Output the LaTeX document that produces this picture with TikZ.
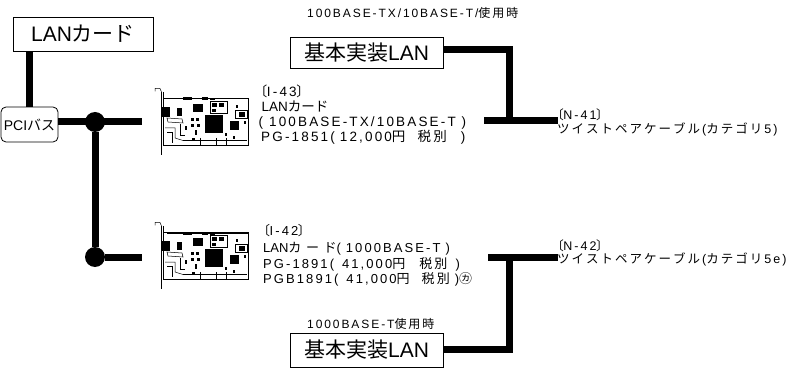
\documentclass[tikz,border=0pt]{standalone}
\usepackage{fontspec}
\setmainfont{Liberation Sans}
\newfontfamily\smfont{Liberation Sans}[LetterSpace=16]
\newfontfamily\plainfont{Liberation Sans}
\newfontfamily\smjfont{Noto Sans CJK JP}
\newfontfamily\brkfont{Noto Sans CJK JP}[RawFeature=+palt]
\newfontfamily\bgjfont{Noto Sans CJK JP}
\newskip\cjkgap
\def\cjkloop#1{\ifx\relax#1\else#1\hskip\cjkgap\expandafter\cjkloop\fi}
\newcommand\JS[1]{{\smjfont\cjkgap=0.16em\relax\cjkloop#1\relax}}
\newcommand\JW[1]{{\smjfont\cjkgap=0.35em\relax\cjkloop#1\relax}}
\newcommand\JB[1]{{\bgjfont #1}}
\newcommand\LBk{{\brkfont 〔}}
\newcommand\RBk{{\brkfont 〕}}
\tikzset{
  wire/.style={line width=7pt},
  bigbox/.style={draw, line width=0.8pt, inner sep=0pt, minimum width=153pt,
    font=\fontsize{21}{21}\selectfont},
  pcibox/.style={draw, line width=0.8pt, rounded corners=5pt, inner sep=0pt,
    minimum width=57pt, minimum height=35pt, font=\fontsize{14}{14}\selectfont},
  junction/.style={circle, fill=black, inner sep=0pt, minimum size=20pt},
  small/.style={anchor=base west, inner sep=0pt, font=\smfont\fontsize{12.5}{14}\selectfont},
  cardtxt/.style={small, font=\smfont\fontsize{13.5}{15}\selectfont},
  cardtxtb/.style={small, font=\smfont\fontsize{13}{15}\selectfont},
  uselbl/.style={small, font=\smfont\fontsize{12}{14}\selectfont},
  chip/.style={fill=black},
  cl/.style={line width=0.5pt},
  pcicard/.pic={
    % bracket
    \draw[cl] (0,3.5) -- (0,0.5) -- (5,0.5) -- (6.5,4);
    \draw[cl] (6.5,4) -- (6.5,67);
    \draw[cl] (8,4) -- (8,57);
    % board
    \draw[cl] (8,10) rectangle (93,57);
    \draw[line width=1pt] (12,11) -- (93,11);
    \fill (28,9.5) rectangle (37,12.5);
    \fill (47,9.5) rectangle (53,12.5);
    \fill (55,10) rectangle (60,12.5);
    % edge connector
    \draw[cl] (28,52.5) -- (92,52.5);
    \draw[cl] (61.5,50) -- (61.5,57);
    \draw[cl] (71.5,50) -- (71.5,57);
    \draw[cl] (45,50) -- (45,57);
    % chips
    \path[chip] (50,27) rectangle (68,45);
    \path[chip] (38,16) rectangle (48,24);
    \path[chip] (75,33) rectangle (84,42);
    \path[chip] (7,19) rectangle (15,29);
    \path[chip] (22,20) rectangle (27,28);
    \draw[cl] (55,13) rectangle (72,25);
    \path[chip] (57,15) rectangle (62,19);
    \path[chip] (64,15) rectangle (69,19);
    \path[chip] (57,21) rectangle (61,24);
    \draw[cl] (80,22) rectangle (92,30);
    \path[chip] (84,24) rectangle (90,29);
    \path[chip] (36,30) rectangle (39,33);
    \path[chip] (41,30) rectangle (44,33);
    \path[chip] (36,36) rectangle (39,39);
    \path[chip] (42,36) rectangle (45,39);
    \path[chip] (40,42) rectangle (42,47);
    \path[chip] (37,50) rectangle (40,53);
    \path[chip] (89,33) rectangle (91,36);
    \path[chip] (81,17) rectangle (83,20);
    \path[chip] (70,45) rectangle (72,48);
    \path[chip] (78,48) rectangle (80,51);
    \path[chip] (30,38) rectangle (32,42);
    % white part and lower-left lines
    \draw[cl] (12,30) -- (27,31) -- (28,35) -- (13,34) -- cycle;
    \draw[cl] (10,40) -- (20,40) -- (20,50) -- (28,52.5);
    \draw[cl] (12,44) -- (17,44) -- (17,55);
    \draw[cl] (25,36) -- (25,47) -- (30,47);
  }
}
\begin{document}
\begin{tikzpicture}[x=1pt,y=-1pt]
\useasboundingbox (0,0) rectangle (794,371);

% left part
\node[bigbox, minimum width=140pt, minimum height=34pt] (lanbox) at (83,34) {LAN\JB{カード}};
\node[pcibox] (pci) at (29.5,124.5) {PCI\JB{バス}};
\node[junction] (dot1) at (95,122) {};
\node[junction] (dot2) at (95,257) {};
\coordinate (c1end) at (142,122);
\coordinate (c2end) at (142,257);
\draw[wire] (pci.north) -- (pci.north |- lanbox.south);
\draw[wire] (pci.east |- dot1) -- (c1end);
\draw[wire] (dot1) -- (dot2);
\draw[wire] (dot2) -- (c2end);

% cards
\pic at (155,88) {pcicard};
\pic at (155,222) {pcicard};

% I-43 text
\node[cardtxt] (i43a) at (260,97) {\LBk I-43\RBk};
\node[cardtxt] (i43b) at (261.5,111.8) {{\plainfont LAN}\JB{カード}};
\node[cardtxt] (i43c) at (258.5,126.6) {( 100BASE-TX/10BASE-T )};
\node[cardtxt] (i43d) at (261,141.4) {PG-1851(\hspace{5pt}12,000\JS{円}\hspace{10pt}\JS{税別}\hspace{12pt})};

% I-42 text
\node[cardtxtb] (i42a) at (263,236) {\LBk I-42\RBk};
\node[cardtxtb] (i42b) at (263,252.5) {{\plainfont LAN}\JW{カー}{\smjfont ド}(\hspace{5pt}1000BASE-T\hspace{5pt})};
\node[cardtxtb] (i42c) at (263,268) {PG-1891(\hspace{8pt}41,000\JS{円}\hspace{12pt}\JS{税別}\hspace{6pt})};
\node[cardtxtb] (i42d) at (263,283.3) {PGB1891(\hspace{8pt}41,000\JS{円}\hspace{10pt}\JS{税別}\hspace{3pt})\JS{㋕}};

% top right
\node[uselbl] (toplbl) at (307,17.5) {100BASE-TX/10BASE-T/\JS{使用時}};
\node[bigbox, minimum height=31pt] (topbox) at (366.5,52.5) {\JB{基本実装}LAN};
\coordinate (j1) at (509,50);
\coordinate (j2) at (509,121);
\coordinate (n41l) at (484,121);
\coordinate (n41r) at (558,121);
\draw[wire] (topbox.east |- j1) -| (j2);
\draw[wire] (n41l) -- (n41r);
\node[small] (n41a) at (557,120) {\LBk N-41\RBk};
\node[small] (n41b) at (557,133.5) {\JS{ツイストペアケーブル}(\JS{カテゴリ}5)};

% bottom right
\node[small] (n42a) at (557,250.5) {\LBk N-42\RBk};
\node[small] (n42b) at (557,263.5) {\JS{ツイストペアケーブル}(\JS{カテゴリ}5e)};
\node[uselbl] (botlbl) at (307,328) {1000BASE-T\JS{使用時}};
\node[bigbox, minimum height=34pt] (botbox) at (366.5,350) {\JB{基本実装}LAN};
\coordinate (j3) at (509,349.5);
\coordinate (j4) at (509,257.5);
\coordinate (n42l) at (488,257.5);
\coordinate (n42r) at (558,257.5);
\draw[wire] (botbox.east |- j3) -| (j4);
\draw[wire] (n42l) -- (n42r);
\end{tikzpicture}
\end{document}
